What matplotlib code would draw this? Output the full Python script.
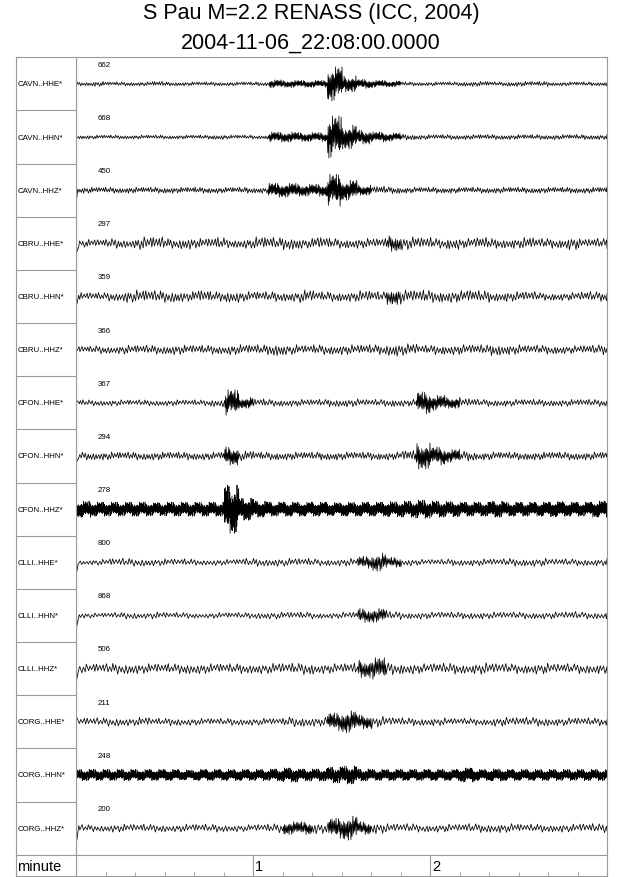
import matplotlib
matplotlib.use("Agg")
import matplotlib.pyplot as plt
import numpy as np

plt.rcParams['font.family'] = ['Liberation Sans', 'DejaVu Sans']

title1 = "S Pau M=2.2 RENASS (ICC, 2004)"
title2 = "2004-11-06_22:08:00.0000"

stations = ["CAVN..HHE*", "CAVN..HHN*", "CAVN..HHZ*",
            "CBRU..HHE*", "CBRU..HHN*", "CBRU..HHZ*",
            "CFON..HHE*", "CFON..HHN*", "CFON..HHZ*",
            "CLLI..HHE*", "CLLI..HHN*", "CLLI..HHZ*",
            "CORG..HHE*", "CORG..HHN*", "CORG..HHZ*"]
amp_labels = ["662", "668", "450", "297", "359", "366", "367", "294", "278",
              "800", "868", "506", "211", "248", "200"]

# envelope of each trace, half amplitude in pixels, one value per 5 s (0..180 s)
env_cavn_hhe = [2, 2.5, 2, 2, 2, 2.5, 2, 2, 2, 2, 2, 2, 2, 4, 3.5, 3.5, 3.5, 17, 8, 4.5, 3.5, 3,
                2, 2, 2, 2, 2.5, 2.5, 2, 2.5, 2.5, 2.5, 2, 2, 2, 2]
env_cavn_hhn = [2, 2, 2, 2, 2, 2, 2, 2, 2, 2.5, 2, 2, 2, 5, 5, 4.5, 4.5, 21, 12, 7, 5, 4,
                3, 2.5, 2.5, 2.5, 2.5, 2.5, 2.5, 2.5, 2.5, 2.5, 2.5, 2.5, 2.5, 2.5]
env_cavn_hhz = [3, 3, 3, 3, 3, 3, 3, 3, 3, 3, 3, 3, 3, 7, 7, 6, 6, 16, 10, 5, 4, 3.5,
                3, 3, 3, 3, 3, 3, 3, 3, 3, 3, 3, 3, 3, 3]
env_cbru_hhe = [4, 4, 5, 4.5, 6.5, 6.5, 5, 6, 5, 6, 4.5, 5, 6.5, 6, 6.5, 5, 6.5, 5, 5, 5, 5, 8,
                6.5, 6, 5, 6, 5, 6, 5, 5, 6, 5, 5, 6.5, 4.5, 5]
env_cbru_hhn = [4, 4, 4.5, 6, 6.5, 6, 6, 5, 6.5, 5, 6, 5, 5, 5, 5, 6.5, 5, 5, 5, 6, 5, 8,
                6.5, 6.5, 6, 6, 6.5, 6, 5, 5, 5, 4, 4, 4, 5, 5]
env_cbru_hhz = [3.5, 4, 4, 4.5, 4.5, 4.5, 5, 4.5, 4.5, 4.5, 5, 5, 5, 6.5, 5, 4.5, 5, 5, 5, 5, 5, 6.5,
                6, 4.5, 5, 5, 5, 5, 6, 5, 4.5, 4.5, 4.5, 4, 4.5, 5]
env_cfon_hhe = [3, 3, 3, 3, 3, 3, 3, 3, 3, 4, 13, 5.5, 4, 3.5, 3.5, 3.5, 3.5, 4, 4, 3.5, 3.5, 4,
                3.5, 11, 7.5, 5.5, 4.5, 3.5, 3.5, 3.5, 3.5, 3.5, 3.5, 3.5, 3.5, 3.5]
env_cfon_hhn = [4, 4, 4, 4, 4, 4, 4, 4, 4, 4, 9, 5, 4, 4, 4, 4, 4, 4, 4, 4, 4, 4,
                5.5, 13, 9, 6.5, 5, 4, 4, 4, 4, 4, 4, 4, 4, 4]
env_cfon_hhz = [8, 7, 7, 7, 7, 6.5, 7, 7, 7, 7, 24, 11, 8, 7, 7, 7, 7, 6.5, 7, 7, 7, 7.5,
                8, 9, 8, 7.5, 7, 7, 8, 7, 7, 7, 7.5, 7, 7, 8]
env_clli_hhe = [2.5, 3, 4, 4, 4, 3.5, 3.5, 3.5, 3, 3, 3, 4, 4, 4, 4, 4, 3.5, 3.5, 4, 6, 9, 5,
                3.5, 3, 3, 3.5, 3.5, 3.5, 3.5, 4, 4, 4, 3.5, 3.5, 3.5, 3.5]
env_clli_hhn = [2.5, 2.5, 3, 3.5, 3, 3.5, 3, 3, 2.5, 3, 3, 3, 3.5, 3.5, 3.5, 3.5, 3, 3, 3.5, 7, 7, 4,
                3.5, 3.5, 3.5, 3.5, 3.5, 3.5, 3.5, 3.5, 3.5, 3.5, 3.5, 4, 3.5, 3.5]
env_clli_hhz = [4.5, 5, 5.5, 5.5, 5, 5, 5, 5.5, 5, 5, 5, 5, 5, 5.5, 5.5, 6, 5, 5, 5.5, 9, 11, 6,
                5.5, 5, 5.5, 5.5, 5, 6, 5.5, 5, 5, 5.5, 5, 5, 5, 5]
env_corg_hhe = [4, 4, 4.5, 4, 4.5, 3.5, 4, 3.5, 3.5, 3.5, 3.5, 3.5, 3.5, 3.5, 5, 5, 4.5, 9, 11, 7, 5.5, 4.5,
                4, 4, 4, 3.5, 3.5, 3.5, 4.5, 4.5, 4.5, 4.5, 4, 4, 4, 4]
env_corg_hhn = [5.5, 5.5, 5.5, 5.5, 5.5, 5.5, 5.5, 5, 5.5, 5.5, 5.5, 5.5, 5.5, 6, 7, 6, 6, 8, 9, 6, 5.5, 5.5,
                5.5, 5.5, 5.5, 5.5, 7, 5.5, 6, 5.5, 5.5, 5.5, 5.5, 5.5, 5.5, 5.5]
env_corg_hhz = [3.5, 3.5, 4, 4, 4, 4, 3.5, 4, 4, 4, 3.5, 3.5, 4, 4.5, 6.5, 6.5, 5.5, 10, 12, 6.5, 5.5, 4.5,
                4.5, 4, 4, 4, 4.5, 4.5, 4.5, 4.5, 4, 4, 4, 4, 4.5, 4.5]

envelopes = [env_cavn_hhe, env_cavn_hhn, env_cavn_hhz,
             env_cbru_hhe, env_cbru_hhn, env_cbru_hhz,
             env_cfon_hhe, env_cfon_hhn, env_cfon_hhz,
             env_clli_hhe, env_clli_hhn, env_clli_hhz,
             env_corg_hhe, env_corg_hhn, env_corg_hhz]

# spike at the start of some traces (pixels)
start_spike = [0, 0, 12, 14, 13, 0, 0, 9, 0, 15, 17, 17, 0, 3, 20]
# wiggles per second (half cycles) in the background noise and in the arrivals
noise_rate = [2.5, 2.5, 2.5, 2.0, 2.0, 2.0, 2.0, 2.2, 8.0, 1.8, 1.8, 1.8, 1.8, 8.0, 1.8]
burst_rate = [5.5, 5.5, 5.5, 3.5, 3.5, 3.0, 5.0, 5.0, 8.0, 4.0, 4.0, 4.0, 4.5, 8.0, 4.5]
peak_shape = [0.5, 0.95, 0.35, 0.7, 1.0, 0.45, 0.6, 0.25, 0.85, 0.55,
              0.9, 0.4, 0.65, 0.3, 0.75, 0.5, 1.0, 0.6, 0.35]
step_shape = [1.0, 0.75, 1.3, 0.9, 1.15, 0.65, 1.4, 0.85, 1.05, 1.2, 0.7]

bin_s = 5.0
t_end = 180.0
row_px = 53.16

W, H = 640, 878
fig = plt.figure(figsize=(W / 100, H / 100), dpi=100)

frame_col = "#9a9a9a"
x0, x1, xl = 76, 607, 16
y_top, y_sep, y_bot = 58.3, 855.7, 876.7


def rect(l, t, r, b):
    return [l / W, 1 - b / H, (r - l) / W, (b - t) / H]


def style_frame(a):
    for s in a.spines.values():
        s.set_color(frame_col)
        s.set_linewidth(0.8)


ax = fig.add_axes(rect(x0, y_top, x1, y_sep))
ax_lab = fig.add_axes(rect(xl, y_top, x0, y_sep))
ax_min = fig.add_axes(rect(x0, y_sep, x1, y_bot))
ax_mlab = fig.add_axes(rect(xl, y_sep, x0, y_bot))

n = len(stations)
for i, env in enumerate(envelopes):
    med = np.median(env)
    t, y = [0.0], [0.0]
    if start_spike[i]:
        t += [0.05, 0.3]
        y += [start_spike[i], -0.6 * start_spike[i]]
    tt = t[-1]
    k = i * 5
    while tt < t_end:
        b = min(int(tt // bin_s), len(env) - 1)
        r = burst_rate[i] if env[b] > 1.4 * med else noise_rate[i]
        tt += step_shape[k % len(step_shape)] / r
        k += 1
        sign = 1 if k % 2 else -1
        t.append(min(tt, t_end))
        y.append(sign * env[b] * peak_shape[k % len(peak_shape)])
    y = np.array(y)
    ax.plot(t, i + 0.5 - y / row_px, color="black", lw=0.55)
    ax.text(7.5, i + 0.13, amp_labels[i], fontsize=5.7, va="center", ha="left")

ax.set_xlim(0, t_end)
ax.set_ylim(n, 0)
ax.set_xticks([])
ax.set_yticks([])
style_frame(ax)

ax_lab.set_xlim(0, 1)
ax_lab.set_ylim(n, 0)
ax_lab.hlines(np.arange(1, n), 0, 1, color=frame_col, lw=0.8)
for i, s in enumerate(stations):
    ax_lab.text(0.02, i + 0.5, s, fontsize=5.7, va="center", ha="left")
ax_lab.set_xticks([])
ax_lab.set_yticks([])
style_frame(ax_lab)

ax_min.set_xlim(0, t_end / 60)
ax_min.set_ylim(0, 1)
ax_min.set_yticks([])
ax_min.set_xticks(np.arange(1 / 6, 3, 1 / 6))
ax_min.tick_params(axis="x", direction="in", length=3, width=0.6, color=frame_col,
                   labelbottom=False)
for m in [1, 2]:
    ax_min.axvline(m, color=frame_col, lw=0.8)
    ax_min.text(m + 0.012, 0.45, str(m), fontsize=10.5, va="center", ha="left")
style_frame(ax_min)

ax_mlab.set_xticks([])
ax_mlab.set_yticks([])
ax_mlab.text(0.02, 0.45, "minute", fontsize=10.5, va="center", ha="left",
             transform=ax_mlab.transAxes)
style_frame(ax_mlab)

fig.text(311 / W, 1 - 14 / H, title1, fontsize=15.5, ha="center", va="center")
fig.text(311 / W, 1 - 43 / H, title2, fontsize=15.5, ha="center", va="center")

fig.savefig("out.png", dpi=100)
